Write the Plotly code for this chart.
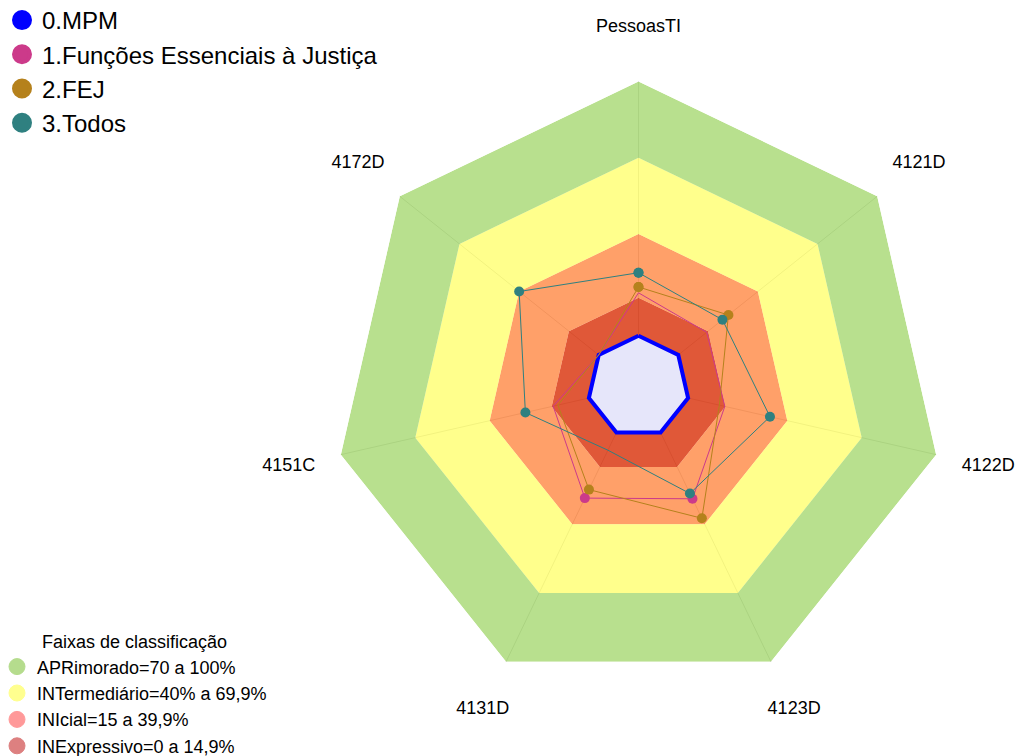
import plotly.graph_objects as go

# ---- data ----
categories = ["PessoasTI", "4121D", "4122D", "4123D", "4131D", "4151C", "4172D"]
series_names = ["0.MPM", "1.Funções Essenciais à Justiça", "2.FEJ", "3.Todos"]
mpm = [0, 0, 0, 0, 0, 0, 0]
funcoes_essenciais = [16.9, 14.3, 14.8, 28.9, 28.6, 14.4, 0]
fej = [19.2, 25.2, 12.6, 37.4, 24.9, 12.5, 0]
todos = [24.8, 22.2, 33.0, 26.6, 7.7, 25.6, 40.0]

band_limits = [15, 40, 70, 100]
band_names = ["INExpressivo=0 a 14,9%", "INIcial=15 a 39,9%",
              "INTermediário=40% a 69,9%", "APRimorado=70 a 100%"]
legend2_title = "Faixas de classificação"

# ---- styles / layout constants ----
series_colors = ["#0000FF", "#CC3A8A", "#B5811C", "#2F8080"]
band_fill = ["rgba(216,46,6,0.8)", "rgba(255,119,42,0.7)",
             "rgba(255,255,91,0.7)", "rgba(154,211,94,0.7)"]
band_legend_colors = ["#DD8080", "#FF9999", "#FFFF8F", "#B5DC8D"]
label_radius = 121          # radial position of the category labels
r_min, r_max, r_label_max = -20, 100, 125

W, H = 1015, 748            # page body has an 8px margin
cx, cy = 630.5, 378.7       # polar centre in figure pixels
R1 = 305.3                  # half-size of the main polar domain (px)
R2 = R1 * (r_label_max - r_min) / (r_max - r_min)

theta_closed = categories + [categories[0]]


def close(vals):
    return list(vals) + [vals[0]]


def dom(half):
    return dict(x=[(cx - half) / W, (cx + half) / W],
                y=[max(0, 1 - (cy + half) / H), min(1, 1 - (cy - half) / H)])


fig = go.Figure()

# background classification bands (rings)
for i, lim in enumerate(band_limits):
    fig.add_trace(go.Scatterpolar(
        r=[lim] * len(theta_closed), theta=theta_closed,
        mode="lines", line=dict(width=0, color=band_fill[i]),
        fill="toself" if i == 0 else "tonext", fillcolor=band_fill[i],
        showlegend=False, hoverinfo="skip"))

# series
all_series = [mpm, funcoes_essenciais, fej, todos]
for k, vals in enumerate(all_series):
    if k == 0:
        fig.add_trace(go.Scatterpolar(
            r=close(vals), theta=theta_closed, mode="lines+markers",
            line=dict(color=series_colors[k], width=4),
            marker=dict(color=series_colors[k], size=11),
            fill="toself", fillcolor="#E6E6FA",
            name=series_names[k], showlegend=False))
    else:
        fig.add_trace(go.Scatterpolar(
            r=close(vals), theta=theta_closed, mode="lines+markers",
            line=dict(color=series_colors[k], width=1),
            marker=dict(color=series_colors[k], size=10),
            name=series_names[k], showlegend=False))

# category labels (centred on the spokes, outside the grid)
fig.add_trace(go.Scatterpolar(
    r=[label_radius] * len(categories), theta=categories, mode="text",
    text=categories, textposition="middle center",
    textfont=dict(size=18, color="black"), cliponaxis=False,
    showlegend=False, hoverinfo="skip", subplot="polar2"))

# legend entries
for k, name in enumerate(series_names):
    fig.add_trace(go.Scatterpolar(
        r=[None], theta=[None], mode="markers", name=name,
        marker=dict(color=series_colors[k], size=16,
                    line=dict(color=series_colors[k], width=4)),
        legend="legend"))
for i in [3, 2, 1, 0]:
    fig.add_trace(go.Scatterpolar(
        r=[None], theta=[None], mode="markers", name=band_names[i],
        marker=dict(color=band_legend_colors[i], size=16,
                    line=dict(color=band_legend_colors[i], width=1)),
        legend="legend2"))

angular_common = dict(direction="clockwise", rotation=90,
                      categoryorder="array", categoryarray=categories)

fig.update_layout(
    width=W, height=H,
    margin=dict(l=0, r=0, t=0, b=0, autoexpand=False),
    paper_bgcolor="white",
    font=dict(family="Arial, Liberation Sans, sans-serif", color="black"),
    polar=dict(
        domain=dom(R1),
        gridshape="linear",
        bgcolor="rgba(0,0,0,0)",
        radialaxis=dict(range=[r_min, r_max], visible=False, showgrid=False),
        angularaxis=dict(showline=False, gridcolor="#D3D3D3", gridwidth=1,
                         ticks="", showticklabels=False, **angular_common),
    ),
    polar2=dict(
        domain=dom(R2),
        gridshape="linear",
        bgcolor="rgba(0,0,0,0)",
        radialaxis=dict(range=[r_min, r_label_max], visible=False,
                        showgrid=False),
        angularaxis=dict(showline=False, showgrid=False, ticks="",
                         showticklabels=False, **angular_common),
    ),
    legend=dict(x=-6 / W, y=1 + 10 / H, xanchor="left", yanchor="top",
                font=dict(size=24, color="black"),
                bgcolor="rgba(0,0,0,0)"),
    legend2=dict(x=-11 / W, y=-8 / H, xanchor="left", yanchor="bottom",
                 font=dict(size=18, color="black"),
                 bgcolor="rgba(0,0,0,0)",
                 title=dict(text=legend2_title, side="top center",
                            font=dict(size=18, color="black"))),
)

fig.write_html("out.html")
